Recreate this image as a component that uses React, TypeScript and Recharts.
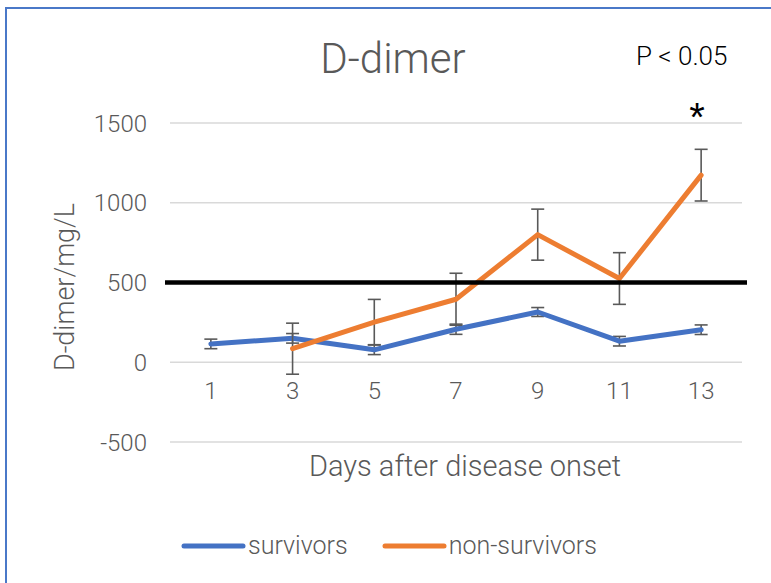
import {
  CartesianGrid,
  ErrorBar,
  Legend,
  Line,
  LineChart,
  ReferenceLine,
  XAxis,
  YAxis,
} from "recharts";

const days = ["1", "3", "5", "7", "9", "11", "13"];
const survivors = [115, 150, 78, 207, 315, 132, 204];
const survivorsErr = [30, 30, 30, 32, 28, 30, 30];
const nonSurvivors = [null, 85, 252, 395, 800, 525, 1173];
const nonSurvivorsErr = [null, 160, 142, 163, 160, 162, 162];
const seriesNames = ["survivors", "non-survivors"];
const yTicks = [-500, 0, 500, 1000, 1500];
const cutoff = 500;

const BLUE = "#4472C4";
const ORANGE = "#ED7D31";
const GRAY = "#595959";
const FONT = "Roboto, 'Liberation Sans', Arial, sans-serif";

const data = days.map((d, i) => ({
  day: d,
  s: survivors[i],
  sErr: survivorsErr[i],
  n: nonSurvivors[i],
  nErr: nonSurvivorsErr[i],
}));

function DayTick({ x, y, payload }: any) {
  // labels sit under the zero line, not at the bottom of the plot
  return (
    <text
      x={x}
      y={y}
      dy={-43}
      textAnchor="middle"
      fill={GRAY}
      fontSize={24}
      fontFamily={FONT}
      fontWeight={300}
    >
      {payload.value}
    </text>
  );
}

function LegendContent({ payload }: any) {
  const items = [...(payload || [])].sort(
    (a: any, b: any) => seriesNames.indexOf(a.value) - seriesNames.indexOf(b.value)
  );
  return (
    <div style={{ display: "flex", alignItems: "center", height: 30 }}>
      {items.map((p: any, i: number) => (
        <div
          key={p.value}
          style={{
            display: "flex",
            alignItems: "center",
            marginLeft: i === 0 ? 0 : 34,
          }}
        >
          <svg width={65} height={8}>
            <line
              x1={3}
              y1={4}
              x2={62}
              y2={4}
              stroke={p.color}
              strokeWidth={5}
              strokeLinecap="round"
            />
          </svg>
          <span
            style={{
              fontFamily: FONT,
              fontWeight: 300,
              fontSize: 25,
              color: GRAY,
              lineHeight: "30px",
              marginLeft: 2,
            }}
          >
            {p.value}
          </span>
        </div>
      ))}
    </div>
  );
}

export default function App() {
  return (
    <div
      style={{
        position: "absolute",
        left: 0,
        top: 0,
        width: 771,
        height: 583,
        overflow: "hidden",
        background: "#fff",
      }}
    >
      {/* frame, cropped on the right and bottom like the original */}
      <div
        style={{
          position: "absolute",
          left: 5,
          top: 7,
          width: 800,
          height: 620,
          border: "2px solid #4A78C8",
        }}
      />
      <LineChart
        width={771}
        height={583}
        data={data}
        margin={{ top: 123, right: 29, left: 0, bottom: 81 }}
      >
        <CartesianGrid vertical={false} stroke="#D9D9D9" strokeWidth={1.3} />
        <XAxis
          dataKey="day"
          scale="band"
          axisLine={false}
          tickLine={false}
          tickSize={0}
          tickMargin={0}
          height={30}
          tick={<DayTick />}
        />
        <YAxis
          domain={[-500, 1500]}
          ticks={yTicks}
          width={170}
          axisLine={false}
          tickLine={false}
          tickSize={0}
          tickMargin={23}
          tick={{ fill: GRAY, fontSize: 24, fontFamily: FONT, fontWeight: 300 }}
        />
        <Line
          dataKey="s"
          name={seriesNames[0]}
          stroke={BLUE}
          strokeWidth={5}
          strokeLinecap="round"
          strokeLinejoin="round"
          dot={false}
          activeDot={false}
          isAnimationActive={false}
        >
          <ErrorBar
            dataKey="sErr"
            direction="y"
            width={6.5}
            stroke={GRAY}
            strokeWidth={1.6}
            isAnimationActive={false}
          />
        </Line>
        <Line
          dataKey="n"
          name={seriesNames[1]}
          stroke={ORANGE}
          strokeWidth={5}
          strokeLinecap="round"
          strokeLinejoin="round"
          dot={false}
          activeDot={false}
          isAnimationActive={false}
        >
          <ErrorBar
            dataKey="nErr"
            direction="y"
            width={6.5}
            stroke={GRAY}
            strokeWidth={1.6}
            isAnimationActive={false}
          />
        </Line>
        <ReferenceLine
          y={cutoff}
          stroke="#000"
          strokeWidth={4.5}
          shape={(p: any) => (
            <line
              x1={p.x1 - 5}
              y1={p.y1}
              x2={p.x2 + 5}
              y2={p.y2}
              stroke="#000"
              strokeWidth={4.5}
            />
          )}
        />
        <Legend
          content={<LegendContent />}
          wrapperStyle={{ top: 531, left: 181, width: "auto" }}
        />
      </LineChart>
      <svg
        width={771}
        height={583}
        style={{ position: "absolute", left: 0, top: 0, pointerEvents: "none" }}
      >
        <text
          x={393}
          y={73}
          textAnchor="middle"
          fill={GRAY}
          fontSize={42}
          fontFamily={FONT}
          fontWeight={300}
        >
          D-dimer
        </text>
        <text
          x={636}
          y={65}
          fill="#000"
          fontSize={26}
          fontFamily={FONT}
          fontWeight={300}
        >
          P &lt; 0.05
        </text>
        <text
          x={697}
          y={131}
          textAnchor="middle"
          fill="#000"
          fontSize={40}
          fontFamily="'Liberation Sans', Arial, sans-serif"
        >
          *
        </text>
        <text
          transform="translate(65,287) rotate(-90)"
          textAnchor="middle"
          dominantBaseline="central"
          fill={GRAY}
          fontSize={27}
          fontFamily={FONT}
          fontWeight={300}
        >
          D-dimer/mg/L
        </text>
        <text
          x={465}
          y={476}
          textAnchor="middle"
          fill={GRAY}
          fontSize={29}
          fontFamily={FONT}
          fontWeight={300}
        >
          Days after disease onset
        </text>
      </svg>
    </div>
  );
}
